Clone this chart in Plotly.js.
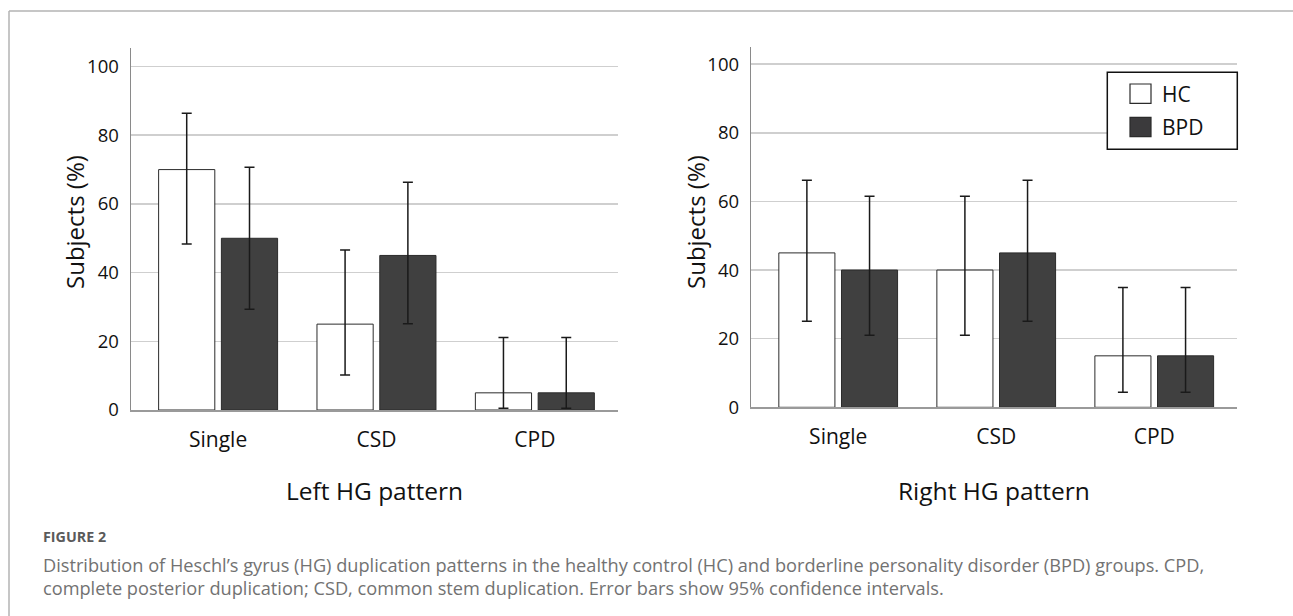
<!DOCTYPE html>
<html>
<head>
<meta charset="utf-8">
<script src="https://cdn.plot.ly/plotly-3.0.1.min.js"></script>
<style>
html,body{margin:0;padding:0;background:#fff;}
#chart{width:1293px;height:616px;}
</style>
</head>
<body>
<div id="chart"></div>
<script>
// ---- data ----
const categories = ['Single', 'CSD', 'CPD'];
const groupNames = ['HC', 'BPD'];

// Left HG pattern (% subjects) and 95% CI bounds
const leftHC = [70, 25, 5];
const leftHCUpper = [86.4, 46.6, 21.1];
const leftHCLower = [48.3, 10.2, 0.5];
const leftBPD = [50, 45, 5];
const leftBPDUpper = [70.7, 66.3, 21.1];
const leftBPDLower = [29.3, 25.1, 0.5];

// Right HG pattern
const rightHC = [45, 40, 15];
const rightHCUpper = [66.2, 61.5, 34.9];
const rightHCLower = [25.1, 21.0, 4.4];
const rightBPD = [40, 45, 15];
const rightBPDUpper = [61.5, 66.2, 34.9];
const rightBPDLower = [21.0, 25.1, 4.4];

const yTickVals = [0, 20, 40, 60, 80, 100];
const yTitle = 'Subjects (%)';
const leftTitle = 'Left HG pattern';
const rightTitle = 'Right HG pattern';
const figLabel = 'FIGURE 2';
const captionLines = [
  'Distribution of Heschl\u2019s gyrus (HG) duplication patterns in the healthy control (HC) and borderline personality disorder (BPD) groups. CPD,',
  'complete posterior duplication; CSD, common stem duplication. Error bars show 95% confidence intervals.'
];

// ---- styling ----
const W = 1293, H = 616;
const px = x => x / W;
const py = y => 1 - y / H;
const FONT = '"Open Sans", "DejaVu Sans", sans-serif';
const CAPFONT = '"Open Sans", Lato, sans-serif';
const HC_FILL = '#ffffff', BPD_FILL = '#404040', EDGE = '#2b2b2b';

function errBar(vals, up, lo) {
  return {
    type: 'data', symmetric: false,
    array: vals.map((v, i) => +(up[i] - v).toFixed(2)),
    arrayminus: vals.map((v, i) => +(v - lo[i]).toFixed(2)),
    color: '#1a1a1a', thickness: 1.5, width: 5
  };
}
function barTrace(name, vals, up, lo, fill, xa, ya) {
  return {
    type: 'bar', name: name, x: categories, y: vals,
    xaxis: xa, yaxis: ya, showlegend: false,
    marker: {color: fill, line: {color: EDGE, width: 1}},
    error_y: errBar(vals, up, lo), hoverinfo: 'x+y'
  };
}

const data = [
  barTrace(groupNames[0], leftHC, leftHCUpper, leftHCLower, HC_FILL, 'x', 'y'),
  barTrace(groupNames[1], leftBPD, leftBPDUpper, leftBPDLower, BPD_FILL, 'x', 'y'),
  barTrace(groupNames[0], rightHC, rightHCUpper, rightHCLower, HC_FILL, 'x2', 'y2'),
  barTrace(groupNames[1], rightBPD, rightBPDUpper, rightBPDLower, BPD_FILL, 'x2', 'y2')
];

function xAxis(domain, anchor) {
  return {
    domain: domain, anchor: anchor, type: 'category',
    range: [-0.55, 2.525], fixedrange: true,
    showline: true, linecolor: '#9a9a9a', linewidth: 1.5,
    showgrid: false, zeroline: false, ticks: '',
    ticklabelstandoff: 10,
    tickfont: {family: FONT, size: 21, color: '#111'}
  };
}
function yAxis(domain, anchor, top) {
  return {
    domain: domain, anchor: anchor, range: [0, top], fixedrange: true,
    tickvals: yTickVals, ticktext: yTickVals.map(String),
    showline: true, linecolor: '#8a8a8a', linewidth: 1.5,
    showgrid: true, gridcolor: '#cfcfcf', gridwidth: 1.5,
    zeroline: false, ticks: '', ticklabelstandoff: 7,
    tickfont: {family: FONT, size: 18.5, color: '#111'}
  };
}

const shapes = [
  // figure frame (top and left)
  {type: 'line', xref: 'paper', yref: 'paper', x0: px(9), x1: px(1293), y0: py(11), y1: py(11), line: {color: '#b3b3b3', width: 1.5}},
  {type: 'line', xref: 'paper', yref: 'paper', x0: px(9), x1: px(9), y0: py(11), y1: py(616), line: {color: '#b3b3b3', width: 1.5}},
  // legend box
  {type: 'rect', xref: 'paper', yref: 'paper', x0: px(1107.3), x1: px(1237.3), y0: py(72.3), y1: py(149.3), line: {color: '#111', width: 1.5}, fillcolor: '#fff'},
  {type: 'rect', xref: 'paper', yref: 'paper', x0: px(1130), x1: px(1151), y0: py(84), y1: py(103.3), line: {color: EDGE, width: 1.2}, fillcolor: HC_FILL},
  {type: 'rect', xref: 'paper', yref: 'paper', x0: px(1130), x1: px(1151), y0: py(117.3), y1: py(136.7), line: {color: EDGE, width: 1.2}, fillcolor: '#3b3a3c'}
];

const annotations = [
  {text: yTitle, xref: 'paper', yref: 'paper', x: px(74), y: py(222), textangle: -90, showarrow: false, xanchor: 'center', yanchor: 'middle', font: {family: FONT, size: 24, color: '#111'}},
  {text: yTitle, xref: 'paper', yref: 'paper', x: px(695), y: py(222), textangle: -90, showarrow: false, xanchor: 'center', yanchor: 'middle', font: {family: FONT, size: 24, color: '#111'}},
  {text: leftTitle, xref: 'paper', yref: 'paper', x: px(374.5), y: py(490), showarrow: false, xanchor: 'center', yanchor: 'middle', font: {family: FONT, size: 24.5, color: '#111'}},
  {text: rightTitle, xref: 'paper', yref: 'paper', x: px(994), y: py(490), showarrow: false, xanchor: 'center', yanchor: 'middle', font: {family: FONT, size: 24.5, color: '#111'}},
  {text: groupNames[0], xref: 'paper', yref: 'paper', x: px(1160), y: py(94), showarrow: false, xanchor: 'left', yanchor: 'middle', font: {family: FONT, size: 21, color: '#111'}},
  {text: groupNames[1], xref: 'paper', yref: 'paper', x: px(1160), y: py(127), showarrow: false, xanchor: 'left', yanchor: 'middle', font: {family: FONT, size: 21, color: '#111'}},
  {text: '<b>' + figLabel + '</b>', xref: 'paper', yref: 'paper', x: px(41), y: py(536), showarrow: false, xanchor: 'left', yanchor: 'middle', font: {family: CAPFONT, size: 14.3, color: '#5a5a5a'}},
  {text: captionLines[0], xref: 'paper', yref: 'paper', x: px(41), y: py(565), showarrow: false, xanchor: 'left', yanchor: 'middle', font: {family: CAPFONT, size: 18.2, color: '#727272'}},
  {text: captionLines[1], xref: 'paper', yref: 'paper', x: px(41), y: py(588), showarrow: false, xanchor: 'left', yanchor: 'middle', font: {family: CAPFONT, size: 18.2, color: '#727272'}}
];

const layout = {
  width: W, height: H,
  margin: {l: 0, r: 0, t: 0, b: 0},
  paper_bgcolor: '#fff', plot_bgcolor: 'rgba(0,0,0,0)',
  barmode: 'group', bargap: 0.207, bargroupgap: 0.105,
  showlegend: false,
  font: {family: FONT, color: '#111'},
  xaxis: xAxis([px(131), px(618)], 'y'),
  yaxis: yAxis([py(410), py(48)], 'x', 105.4),
  xaxis2: xAxis([px(751.3), px(1237.2)], 'y2'),
  yaxis2: yAxis([py(407.3), py(46.7)], 'x2', 105.1),
  shapes: shapes,
  annotations: annotations
};

Plotly.newPlot('chart', data, layout, {displayModeBar: false, staticPlot: true});
</script>
</body>
</html>
